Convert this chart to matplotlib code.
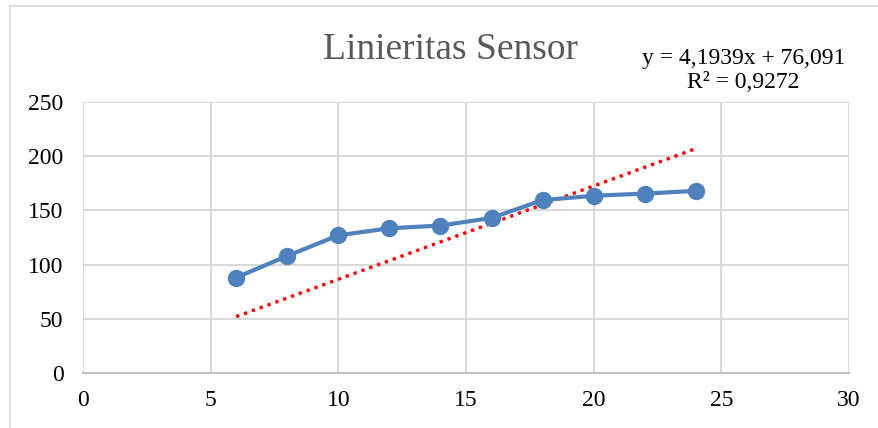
import matplotlib.pyplot as plt
from matplotlib.lines import Line2D

# data
x_vals = [6, 8, 10, 12, 14, 16, 18, 20, 22, 24]
y_vals = [88, 108, 127, 133.5, 136, 143, 159.5, 163.5, 165.5, 168]
trend_x = [6, 24]
trend_y = [52, 207]
x_ticks = [0, 5, 10, 15, 20, 25, 30]
y_ticks = [0, 50, 100, 150, 200, 250]

plt.rcParams['font.family'] = ['Liberation Serif', 'DejaVu Serif']

fig = plt.figure(figsize=(8.79, 4.28), dpi=100)
ax = fig.add_axes([0.0944, 0.1285, 0.8715, 0.6332])

ax.plot(trend_x, trend_y, color='#ff0000', linestyle=(0, (1, 1.5)), linewidth=2.4, zorder=2)
ax.plot(x_vals, y_vals, color='#4f81bd', linewidth=3, marker='o',
        markersize=11.5, zorder=3)

ax.set_xlim(0, 30)
ax.set_ylim(0, 250)
ax.set_xticks(x_ticks)
ax.set_yticks(y_ticks)
ax.grid(True, color='#d9d9d9', linewidth=1.5)
ax.set_axisbelow(True)
for side in ['top', 'right', 'left']:
    ax.spines[side].set_visible(False)
ax.spines['bottom'].set_color('#bfbfbf')
ax.spines['bottom'].set_linewidth(1.5)
ax.tick_params(length=0, labelsize=17, colors='black')
ax.tick_params(axis='y', pad=14)
ax.tick_params(axis='x', pad=12)

fig.text(0.512, 0.883, 'Linieritas Sensor', ha='center', va='center',
         fontsize=27, color='#595959')
fig.text(0.846, 0.835, 'y = 4,1939x + 76,091\nR² = 0,9272', ha='center',
         va='center', fontsize=17, linespacing=1.2)

# chart area border
fig.add_artist(Line2D([0.011, 0.011], [0, 0.986], transform=fig.transFigure,
                      color='#d9d9d9', linewidth=1.2))
fig.add_artist(Line2D([0.011, 1], [0.986, 0.986], transform=fig.transFigure,
                      color='#d9d9d9', linewidth=1.2))

fig.savefig('out.png', dpi=100)
